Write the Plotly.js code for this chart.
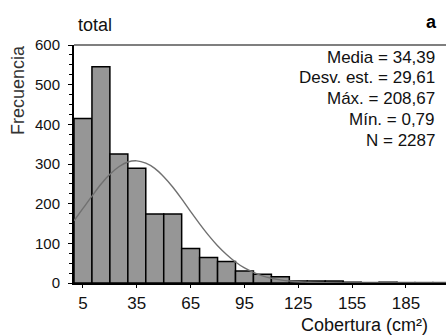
<!DOCTYPE html>
<html>
<head>
<meta charset="utf-8">
<script src="https://cdn.plot.ly/plotly-3.0.1.min.js"></script>
<style>html,body{margin:0;padding:0;background:#fff;}</style>
</head>
<body>
<div id="chart" style="width:446px;height:335px;"></div>
<script>
// Histogram bins (bin width 10, centers) and counts
const binCenters = [5,15,25,35,45,55,65,75,85,95,105,115,125,135,145,155,165,175,185,195,205];
const counts     = [415,545,325,289,174,174,87,64,54,30,22,16,5,5,5,2,1,2,1,1,1];

// Normal curve
const curveX = [0,5,10,15,20,25,30,35,40,45,50,55,60,65,70,75,80,85,90,95,100,105,110,115,120,125,130,140,150,160,180,210];
const curveY = [157,188,219,249,274,293,305,308,302,289,268,242,212,180,149,120,94,72,53,38,27,18,12,8,5,3,2,0.5,0.1,0,0,0];

// Tick labels
const xTicks = [5,35,65,95,125,155,185];
const yTicks = [0,100,200,300,400,500,600];

// Texts
const statLines = ["Media = 34,39","Desv. est. = 29,61","Máx. = 208,67","Mín. = 0,79","N = 2287"];
const panelTitle = "total";
const panelLetter = "a";
const yTitle = "Frecuencia";
const xTitle = "Cobertura (cm²)";

// pixel helpers for placing text (layout only)
const L = 74, T = 45, W = 446 - L, H = 283 - T;
const px2x = p => (p - L) / W;
const px2y = p => (T + H - p) / H;

const FONT = 'Liberation Sans, Arial, sans-serif';

const traces = [
  {
    type: 'bar', x: binCenters, y: counts, width: 10,
    marker: {color: '#969696', line: {color: '#000', width: 1.5}},
    hoverinfo: 'skip'
  },
  {
    type: 'scatter', mode: 'lines', x: curveX, y: curveY,
    line: {color: '#707070', width: 1.4, shape: 'spline'},
    hoverinfo: 'skip'
  }
];

const annotations = [
  {text: panelTitle, x: px2x(77), y: px2y(25), xanchor: 'left', yanchor: 'middle', font: {size: 18, color: '#111'}},
  {text: '<b>' + panelLetter + '</b>', x: px2x(438), y: px2y(22), xanchor: 'right', yanchor: 'middle', font: {size: 18}},
  {text: yTitle, x: px2x(18), y: px2y(90), xanchor: 'center', yanchor: 'middle', textangle: -90, font: {size: 18, color: '#333'}},
  {text: xTitle, x: px2x(429), y: px2y(325), xanchor: 'right', yanchor: 'middle', font: {size: 18, color: '#111'}}
];
statLines.forEach((s, i) => {
  annotations.push({text: s, x: px2x(436), y: px2y(57 + i * 20.8), xanchor: 'right', yanchor: 'middle', font: {size: 17, color: '#111'}});
});
annotations.forEach(a => { a.xref = 'paper'; a.yref = 'paper'; a.showarrow = false; a.borderpad = 0; a.font.family = FONT; if (!a.font.color) a.font.color = '#000'; });

const layout = {
  width: 446, height: 335,
  margin: {l: L, r: 0, t: T, b: 335 - 283, pad: 0},
  paper_bgcolor: '#fff', plot_bgcolor: '#fff',
  showlegend: false, bargap: 0,
  font: {family: FONT, color: '#000'},
  xaxis: {
    range: [0, 207.3], tickvals: xTicks, ticktext: xTicks.map(String),
    ticks: 'outside', ticklen: 3, tickcolor: '#000', tickwidth: 1,
    showline: true, linecolor: '#000', linewidth: 2,
    showgrid: false, zeroline: false, automargin: false,
    tickfont: {size: 17, family: FONT, color: '#111'}, ticklabelstandoff: 1
  },
  yaxis: {
    range: [0, 600], tickvals: yTicks, ticktext: yTicks.map(String),
    ticks: 'outside', ticklen: 4, tickcolor: '#000', tickwidth: 1,
    minor: {dtick: 25, ticks: 'outside', ticklen: 3, tickcolor: '#000', showgrid: false},
    showline: true, linecolor: '#000', linewidth: 2,
    showgrid: false, zeroline: false, automargin: false,
    tickfont: {size: 15, family: FONT, color: '#111'}, ticklabelstandoff: 5
  },
  shapes: [
    {type: 'line', xref: 'paper', yref: 'paper', x0: 0, x1: 1, y0: 1, y1: 1, line: {color: '#000', width: 1.2}}
  ],
  annotations: annotations
};

Plotly.newPlot('chart', traces, layout, {displayModeBar: false, staticPlot: true});
</script>
</body>
</html>
